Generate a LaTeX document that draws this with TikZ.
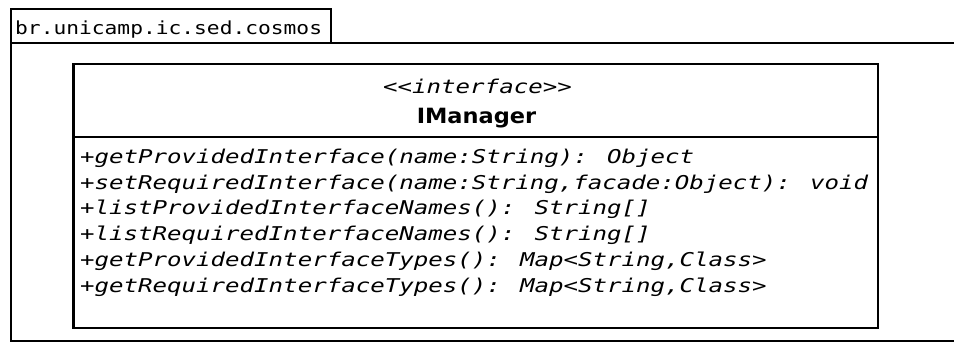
\documentclass[tikz,border=0pt]{standalone}
\usepackage{fontspec}
\newfontfamily\pkgfont[FakeStretch=1.18]{DejaVu Sans Mono}
\newfontfamily\opfont[FakeStretch=1.268]{DejaVu Sans Mono}
\newfontfamily\titlefont[FakeStretch=1.07]{DejaVu Sans}
\begin{document}
\begin{tikzpicture}[x=1pt,y=-1pt,
  outline/.style={draw=black,line width=2.8pt,line join=miter},
  pkglabel/.style={anchor=base west,inner sep=0pt,font=\pkgfont\fontsize{18}{18}\selectfont},
  stereo/.style={anchor=base,inner sep=0pt,font=\opfont\itshape\fontsize{19}{19}\selectfont},
  classname/.style={anchor=base,inner sep=0pt,font=\titlefont\bfseries\fontsize{21}{21}\selectfont},
  operation/.style={anchor=base west,inner sep=0pt,font=\opfont\itshape\fontsize{19}{19}\selectfont}]
\useasboundingbox (0,0) rectangle (954,343);

% package frame: tab and body (body runs past the right edge)
\coordinate (tabNW) at (11,9);
\coordinate (tabSE) at (331,43);
\coordinate (bodyNW) at (11,43);
\coordinate (bodyNE) at (960,43);
\coordinate (bodySW) at (11,341);
\coordinate (bodySE) at (960,341);
\draw[outline] (tabNW) rectangle (tabSE);
\draw[outline] (bodyNE) -- (bodyNW) -- (bodySW) -- (bodySE);
\node[pkglabel] (pkgname) at (15,34) {br.unicamp.ic.sed.cosmos};

% interface class box
\coordinate (clsNW) at (73.5,64);
\coordinate (clsSE) at (878,328);
\coordinate (divW) at (73.5,137);
\coordinate (divE) at (878,137);
\draw[outline] (clsNW) rectangle (clsSE);
\draw[outline] (divW) -- (divE);

\node[stereo] (stereotype) at (477.5,93) {<{}<interface>{}>};
\node[classname] (cname) at (476.5,123) {IManager};

\node[operation] (op1) at (80,163) {+getProvidedInterface(name:String): Object};
\node[operation] (op2) at (80,189) {+setRequiredInterface(name:String,facade:Object): void};
\node[operation] (op3) at (80,214.5) {+listProvidedInterfaceNames(): String[]};
\node[operation] (op4) at (80,240.5) {+listRequiredInterfaceNames(): String[]};
\node[operation] (op5) at (80,266.5) {+getProvidedInterfaceTypes(): Map<String,Class>};
\node[operation] (op6) at (80,292) {+getRequiredInterfaceTypes(): Map<String,Class>};
\end{tikzpicture}
\end{document}
